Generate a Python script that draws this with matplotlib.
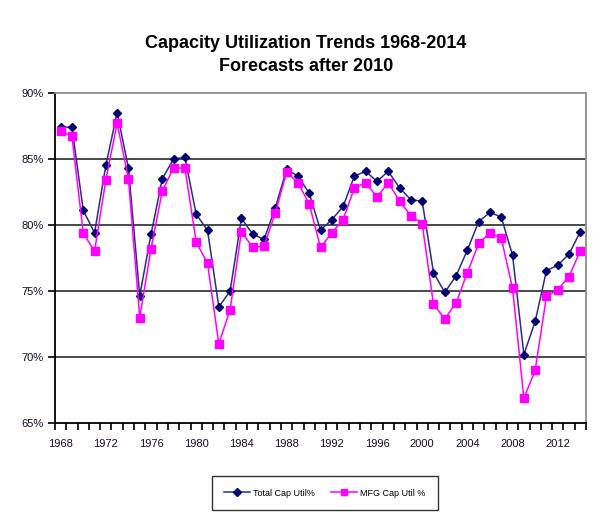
import matplotlib
matplotlib.use("Agg")
import matplotlib.pyplot as plt
import numpy as np

plt.rcParams["font.family"] = ["Liberation Sans", "DejaVu Sans"]

years = list(range(1968, 2015))
total_cap = [87.4, 87.4, 81.1, 79.4, 84.5, 88.5, 84.3, 74.65, 79.3, 83.5,
             85.0, 85.1, 80.8, 79.6, 73.8, 75.0, 80.5, 79.3, 78.9, 81.3,
             84.2, 83.7, 82.4, 79.6, 80.4, 81.4, 83.7, 84.05, 83.3, 84.05,
             82.8, 81.9, 81.8, 76.4, 74.9, 76.15, 78.1, 80.25, 80.95, 80.6,
             77.7, 70.2, 72.7, 76.55, 76.95, 77.8, 79.5]
mfg_cap = [87.1, 86.7, 79.4, 78.0, 83.4, 87.7, 83.5, 73.0, 78.2, 82.6,
           84.3, 84.3, 78.7, 77.1, 71.0, 73.6, 79.5, 78.3, 78.4, 80.9,
           84.0, 83.2, 81.6, 78.3, 79.4, 80.4, 82.8, 83.2, 82.1, 83.2,
           81.8, 80.7, 80.1, 74.0, 72.9, 74.1, 76.4, 78.6, 79.4, 79.0,
           75.2, 66.9, 69.0, 74.6, 75.1, 76.1, 78.05]
y_ticks = [65, 70, 75, 80, 85, 90]
y_labels = ["65%", "70%", "75%", "80%", "85%", "90%"]
title_text = "Capacity Utilization Trends 1968-2014\nForecasts after 2010"
series_names = ["Total Cap Util%", "MFG Cap Util %"]

fig = plt.figure(figsize=(5.93, 5.16), dpi=100)
ax = fig.add_axes([55/593, 1-423.3/516, (586-55)/593, (423.3-92.7)/516])

x = np.arange(len(years))
for yv in [70, 75, 80, 85]:
    ax.axhline(yv, color="#3a3a3a", lw=1.3, zorder=1)

l1, = ax.plot(x, total_cap, color="#2b2b8a", lw=1.1, marker="D", markersize=4,
              markerfacecolor="#000070", markeredgecolor="#000070", zorder=3,
              label=series_names[0])
l2, = ax.plot(x, mfg_cap, color="#ff00ff", lw=1.1, marker="s", markersize=5.2,
              markerfacecolor="#ff00ff", markeredgecolor="#ff00ff", zorder=4,
              label=series_names[1])

ax.set_xlim(-0.5, len(years) - 0.5)
ax.set_ylim(65, 90)
ax.set_yticks(y_ticks)
ax.set_yticklabels(y_labels)
label_pos = [i for i, yr in enumerate(years) if (yr - 1968) % 4 == 0]
ax.set_xticks(label_pos)
ax.set_xticklabels([str(years[i]) for i in label_pos])
ax.set_xticks(np.arange(-0.5, len(years), 1.0), minor=True)
ax.tick_params(axis="x", which="major", length=0, pad=11, labelsize=8, labelcolor="#1a0a2a")
ax.tick_params(axis="x", which="minor", length=5, width=1.2, direction="out", color="black")
ax.tick_params(axis="y", which="major", length=5, width=1.2, direction="out", labelsize=8,
               pad=3, labelcolor="#1a0a2a")

ax.spines["left"].set_color("black")
ax.spines["left"].set_linewidth(1.3)
ax.spines["bottom"].set_color("black")
ax.spines["bottom"].set_linewidth(1.3)
ax.spines["top"].set_color("#8c8c8c")
ax.spines["top"].set_linewidth(1.3)
ax.spines["right"].set_color("#8c8c8c")
ax.spines["right"].set_linewidth(1.3)

fig.text(306/593, 1 - 55/516, title_text, ha="center", va="center",
         fontsize=13, fontweight="bold", linespacing=1.4)

leg = fig.legend(handles=[l1, l2], loc="center", bbox_to_anchor=(325/593, 1 - 493/516),
                 ncol=2, frameon=True, fancybox=False,
                 handlelength=2.8, columnspacing=1.8, borderpad=1.4, handletextpad=0.4,
                 prop={"size": 6.5})
leg.get_frame().set_edgecolor("black")
leg.get_frame().set_linewidth(1.0)
for h in leg.legend_handles:
    h.set_markersize(4)

fig.savefig("out.png", dpi=100)
